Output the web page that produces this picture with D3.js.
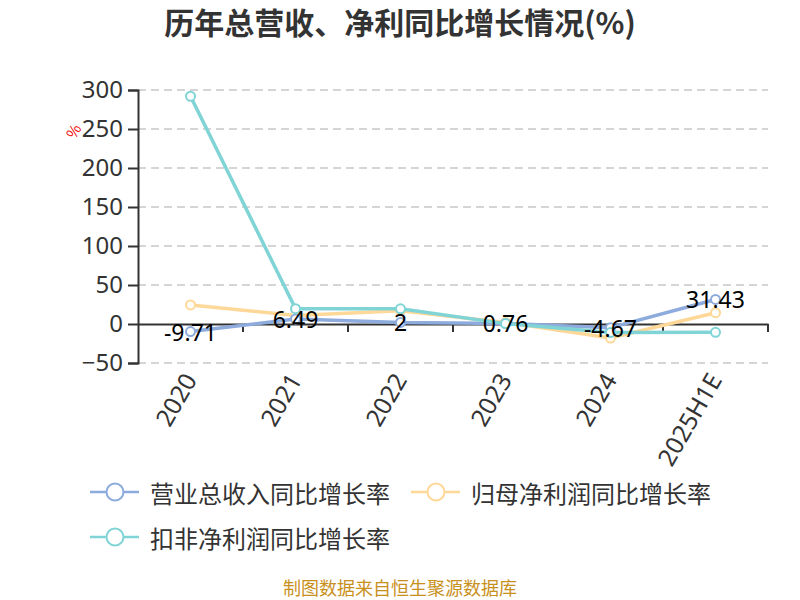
<!DOCTYPE html>
<html><head><meta charset="utf-8">
<script src="https://cdn.jsdelivr.net/npm/d3@7/dist/d3.min.js"></script>
<style>body{margin:0;background:#fff;}svg{display:block;font-family:"Noto Sans CJK SC","Noto Sans",sans-serif;}</style>
</head><body>
<svg id="c" width="800" height="600"></svg>
<script>
const categories = ["2020","2021","2022","2023","2024","2025H1E"];
const seriesNames = ["营业总收入同比增长率","归母净利润同比增长率","扣非净利润同比增长率"];
const revenueGrowth = [-9.71, 6.49, 2, 0.76, -4.67, 31.43];
const netProfitGrowth = [24.5, 11, 17, 2, -18, 14.5];
const deductedProfitGrowth = [292, 19.7, 19.5, 0.5, -11, -10.7];
const yTicks = [-50, 0, 50, 100, 150, 200, 250, 300];
const colors = ["#8dabdc", "#fed898", "#80d4d5"];

(function () {
const svg = d3.select("#c");
const pL = 138, pR = 768, pT = 90, pB = 363;
const x = d3.scaleBand().domain(categories).range([pL, pR]);
const y = d3.scaleLinear().domain([-50, 300]).range([pB, pT]);
const cx = c => x(c) + x.bandwidth() / 2;

svg.append("text").attr("x", 400).attr("y", 34).attr("text-anchor", "middle")
  .attr("font-size", 30).attr("font-weight", "bold").attr("fill", "#333")
  .text("历年总营收、净利同比增长情况(%)");

svg.append("g").selectAll("line").data(yTicks.filter(d => d !== 0)).join("line")
  .attr("x1", pL).attr("x2", pR).attr("y1", d => y(d)).attr("y2", d => y(d))
  .attr("stroke", "#c8c8c8").attr("stroke-width", 1.5).attr("stroke-dasharray", "8,5");

const ya = svg.append("g").attr("transform", `translate(${pL},0)`)
  .call(d3.axisLeft(y).tickValues(yTicks).tickSize(10).tickPadding(5));
ya.select(".domain").attr("stroke", "#333").attr("stroke-width", 2);
ya.selectAll(".tick line").attr("stroke", "#333").attr("stroke-width", 2);
ya.selectAll("text").attr("font-size", 24).attr("fill", "#333").attr("font-family", "'Noto Sans', sans-serif");

svg.append("text").attr("transform", "translate(75,132) rotate(-60)")
  .attr("text-anchor", "middle").attr("dominant-baseline", "middle")
  .attr("font-size", 15).attr("fill", "#e00").text("%");

const xa = svg.append("g").attr("transform", `translate(0,${y(0)})`)
  .call(d3.axisBottom(x).tickSize(0).tickFormat(""));
xa.select(".domain").attr("stroke", "#333").attr("stroke-width", 2);
svg.append("g").selectAll("line").data(categories.map(c => x(c) + x.bandwidth()))
  .join("line").attr("x1", d => d).attr("x2", d => d)
  .attr("y1", y(0)).attr("y2", y(0) + 8).attr("stroke", "#333").attr("stroke-width", 2);

svg.append("g").selectAll("text").data(categories).join("text")
  .attr("transform", d => `translate(${cx(d) - 1},${pB + 12}) rotate(-60)`)
  .attr("text-anchor", "end").attr("dominant-baseline", "central")
  .attr("font-size", 24.5).attr("fill", "#333").attr("font-family", "'Noto Sans', sans-serif")
  .text(d => d);

const allSeries = [revenueGrowth, netProfitGrowth, deductedProfitGrowth];
const line = d3.line().x((d, i) => cx(categories[i])).y(d => y(d));
[1, 0, 2].forEach(si => {
  const data = allSeries[si];
  svg.append("path").datum(data).attr("d", line).attr("fill", "none")
    .attr("stroke", colors[si]).attr("stroke-width", 3.5).attr("stroke-linejoin", "round");
  svg.append("g").selectAll("circle").data(data).join("circle")
    .attr("cx", (d, i) => cx(categories[i])).attr("cy", d => y(d))
    .attr("r", 4.5).attr("fill", "#fff").attr("stroke", colors[si]).attr("stroke-width", 2);
});

svg.append("g").selectAll("text").data(revenueGrowth).join("text")
  .attr("x", (d, i) => cx(categories[i])).attr("y", d => y(d))
  .attr("text-anchor", "middle").attr("dominant-baseline", "central")
  .attr("font-size", 23).attr("fill", "#000").attr("font-family", "'Noto Sans', sans-serif")
  .text(d => d);

const legendPos = [[90, 492], [411, 492], [90, 537]];
seriesNames.forEach((name, i) => {
  const [lx, ly] = legendPos[i];
  const g = svg.append("g").attr("transform", `translate(${lx},${ly})`);
  g.append("line").attr("x1", 0).attr("x2", 49).attr("y1", 0).attr("y2", 0)
    .attr("stroke", colors[i]).attr("stroke-width", 2.5);
  g.append("circle").attr("cx", 25).attr("cy", 0).attr("r", 8.5)
    .attr("fill", "#fff").attr("stroke", colors[i]).attr("stroke-width", 2);
  g.append("text").attr("x", 60).attr("y", 0).attr("dominant-baseline", "central")
    .attr("font-size", 24).attr("fill", "#333").text(name);
});

svg.append("text").attr("x", 400).attr("y", 595).attr("text-anchor", "middle")
  .attr("font-size", 18).attr("fill", "#c8901c").text("制图数据来自恒生聚源数据库");
})();
</script>
</body></html>
